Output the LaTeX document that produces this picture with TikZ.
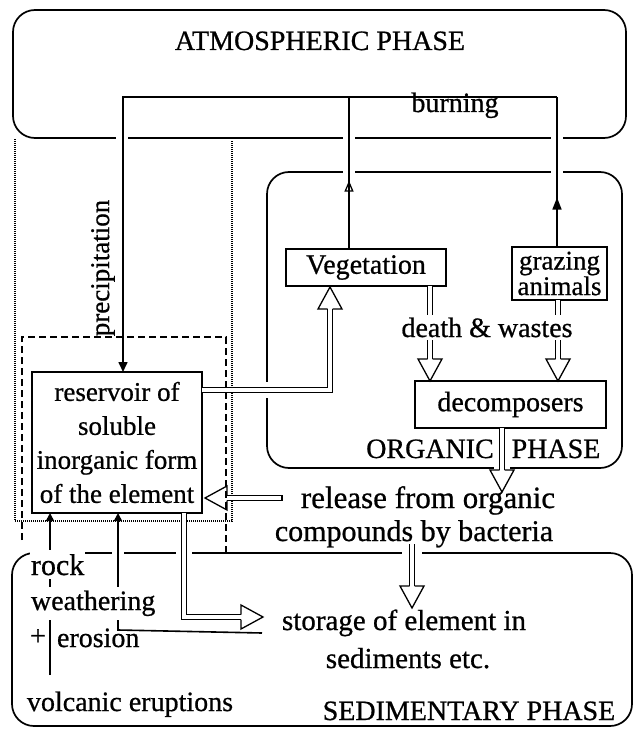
\documentclass[tikz,border=0pt]{standalone}
\usepackage{fontspec}
\setmainfont{Liberation Serif}[BoldFont={Liberation Serif},BoldFeatures={FakeBold=0.7}]
\usetikzlibrary{arrows.meta,decorations.markings}
\newcommand{\ohead}[2]{%
  \begin{scope}[shift={#1},rotate=#2]
    \draw[line width=1.3pt,line join=miter] (0,2.5) -- (0,12) -- (22,0) -- (0,-12) -- (0,-2.5);
  \end{scope}}
\begin{document}
\begin{tikzpicture}[x=1pt,y=-1pt,
  every node/.style={inner sep=0pt,outer sep=0pt,font=\bfseries},
  lbl/.style={font=\fontsize{28}{32}\selectfont\bfseries},
  ln/.style={line width=1.6pt},
  phase/.style={draw,line width=1.7pt,rounded corners=22pt},
  boxn/.style={draw,line width=1.5pt,font=\fontsize{28}{32}\selectfont\bfseries},
  dbl/.style={double=white,double distance=3.6pt,line width=1.3pt},
  gapw/.style={fill=white},
  dotl/.style={line width=1.3pt,dash pattern=on 1pt off 1pt},
  dashl/.style={line width=1.5pt,dash pattern=on 7pt off 4pt},
  midopen/.style={postaction={decorate},decoration={markings,mark=at position #1 with {\arrow{Triangle[open,width=9pt,length=11pt,line width=1.3pt]}}}},
  midfill/.style={postaction={decorate},decoration={markings,mark=at position #1 with {\arrow{Triangle[width=9pt,length=12pt]}}}},
  tipsm/.style={-{Triangle[width=8pt,length=8pt]}}
]
\fill[white] (0,0) rectangle (636,733);
\useasboundingbox (0,0) rectangle (636,733);

% phase boxes
\node[phase,minimum width=613pt,minimum height=128pt] (atm) at (319.5,74) {};
\node[phase,minimum width=355pt,minimum height=296pt] (org) at (444.5,320) {};
\node[phase,minimum width=620pt,minimum height=173pt] (sed) at (322,639.5) {};

% gaps where lines cross the phase borders
\fill[gapw] (116,133) rectangle (128,143);
\fill[gapw] (343,133) rectangle (355,143);
\fill[gapw] (551,133) rectangle (563,143);
\fill[gapw] (343,167) rectangle (355,177);
\fill[gapw] (551,167) rectangle (563,177);
\fill[gapw] (262,382) rectangle (272,398);
\fill[gapw] (494,463) rectangle (510,473);
\fill[gapw] (44,548) rectangle (56,558);
\fill[gapw] (112,548) rectangle (124,558);
\fill[gapw] (176,548) rectangle (192,558);
\fill[gapw] (402,548) rectangle (422,558);

% dotted and dashed regions
\draw[dotl] (15,139) -- (15,521) -- (232,521) -- (232,141);
\draw[dashl] (22,540) -- (22,337) -- (226,337) -- (226,553);

% inner nodes
\node[boxn,minimum width=160pt,minimum height=37pt] (veg) at (366,267.5) {Vegetation};
\node[boxn,minimum width=95pt,minimum height=53pt,align=center,font=\fontsize{27}{22}\selectfont\bfseries] (graz) at (559.5,273.5) {grazing\\animals};
\node[boxn,minimum width=191pt,minimum height=47pt] (dec) at (510.5,404.5) {decomposers};
\node[boxn,minimum width=170pt,minimum height=141pt,align=center,font=\fontsize{27}{34}\selectfont\bfseries] (res) at (117,442.5) {reservoir of\\soluble\\inorganic form\\of the element};

% labels
\node[lbl,anchor=base] (atml) at (320,50) {ATMOSPHERIC PHASE};
\node[lbl,anchor=base] (burn) at (455,112) {burning};
\node[rotate=90,font=\fontsize{27}{30}\selectfont\bfseries] (prec) at (103,268) {precipitation};
\node[lbl,anchor=base] (orgl) at (430,458) {ORGANIC};
\node[lbl,anchor=base] (orgp) at (556,458) {PHASE};
\node[anchor=base,font=\fontsize{31}{34}\selectfont\bfseries] (rel1) at (428,508) {release from organic};
\node[anchor=base,font=\fontsize{30}{34}\selectfont\bfseries] (rel2) at (414,541) {compounds by bacteria};
\node[anchor=base,font=\fontsize{29}{34}\selectfont\bfseries] (sto1) at (404,630) {storage of element in};
\node[anchor=base,font=\fontsize{29}{34}\selectfont\bfseries] (sto2) at (408,668) {sediments etc.};
\node[lbl,anchor=base] (sedl) at (469,720) {SEDIMENTARY PHASE};
\node[lbl,anchor=base] (plus) at (38,645) {+};
\node[lbl,anchor=base west] (eros) at (57,647) {erosion};
\node[lbl,anchor=base west] (volc) at (27,711) {volcanic eruptions};

% coordinates
\coordinate (ptop) at (123,97);
\coordinate (vtop) at (349,97);
\coordinate (gtop) at (557,97);
\coordinate (vx) at (50,675);
\coordinate (sx) at (262,633);
\coordinate (sc) at (118,630);
\coordinate (d1) at (430,359);
\coordinate (d2) at (558,359);
\coordinate (d3) at (502,470);
\coordinate (r4b) at (330,390);
\coordinate (r4c) at (330,309);
\coordinate (r5a) at (282,498);
\coordinate (r5b) at (227,498);
\coordinate (r6a) at (412,544);
\coordinate (r6b) at (412,586);
\coordinate (r7a) at (184,617);
\coordinate (r7b) at (241,617);

% single-line connectors
\draw[ln,midfill=0.33] (graz.north -| gtop) -- (gtop);
\draw[ln,-{Triangle[width=9pt,length=10pt]}] (gtop) -- (ptop) -- (res.north -| ptop);
\draw[ln,midopen=0.45] (veg.north -| vtop) -- (vtop);
\draw[ln,tipsm] (vx) -- (vx |- res.south);
\draw[ln,tipsm] (sx) -- (sc) -- (sc |- res.south);

% double (hollow) arrows
\draw[dbl] (veg.south -| d1) -- (d1); \ohead{(d1)}{-90}
\draw[dbl] (graz.south -| d2) -- (d2); \ohead{(d2)}{-90}
\draw[dbl] (dec.south -| d3) -- (d3); \ohead{(d3)}{-90}
\draw[dbl] (res.east |- r4b) -- (r4b) -- (r4c); \ohead{(r4c)}{90}
\draw[dbl] (r5a) -- (r5b); \ohead{(r5b)}{180}
\draw[line width=1.3pt] (282,495) -- (282,501);
\draw[dbl] (r6a) -- (r6b); \ohead{(r6b)}{-90}
\draw[dbl] (res.south -| r7a) -- (r7a) -- (r7b); \ohead{(r7b)}{0}

% labels that interrupt lines
\node[lbl,anchor=base,fill=white,inner ysep=3pt,inner xsep=2pt] (dw) at (487,337) {death \& wastes};
\node[anchor=base west,fill=white,inner ysep=4pt,inner xsep=1pt,font=\fontsize{30}{32}\selectfont\bfseries] (rock) at (30,575) {rock};
\node[lbl,anchor=base west,fill=white,inner ysep=4pt,inner xsep=1pt] (weath) at (30,610) {weathering};
\end{tikzpicture}
\end{document}
